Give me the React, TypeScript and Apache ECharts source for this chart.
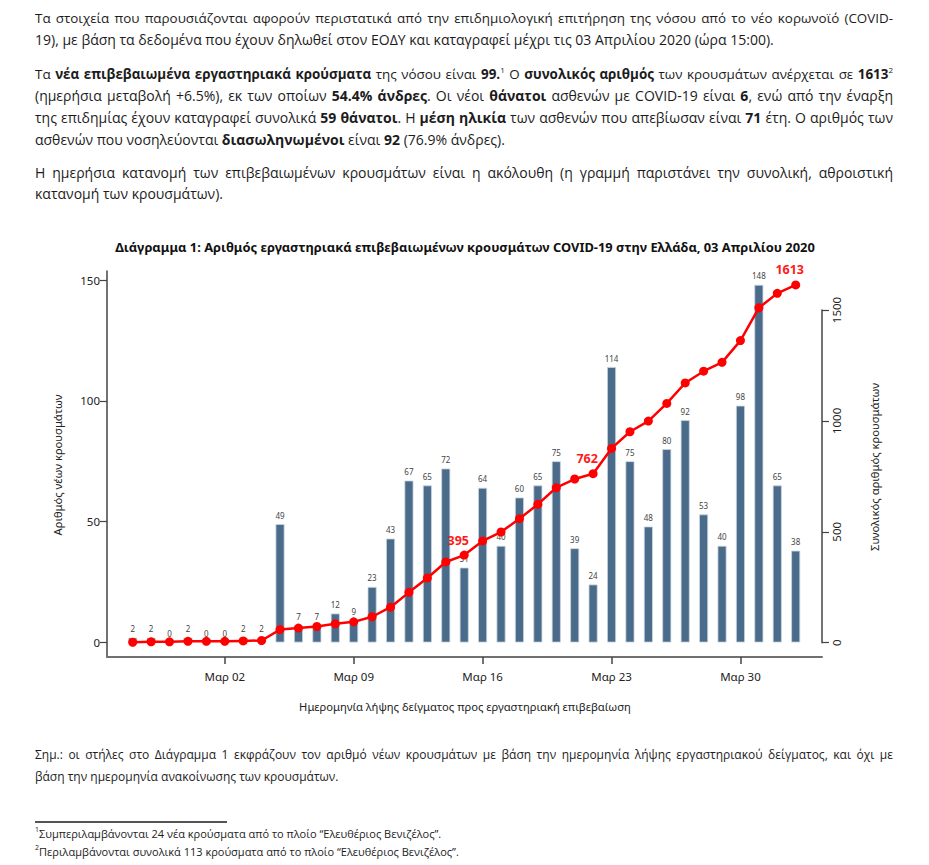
import React, { useEffect, useRef } from "react";
import * as echarts from "echarts";

// ---------- data ----------
const dates = [
  "2020-02-26", "2020-02-27", "2020-02-28", "2020-02-29", "2020-03-01", "2020-03-02",
  "2020-03-03", "2020-03-04", "2020-03-05", "2020-03-06", "2020-03-07", "2020-03-08",
  "2020-03-09", "2020-03-10", "2020-03-11", "2020-03-12", "2020-03-13", "2020-03-14",
  "2020-03-15", "2020-03-16", "2020-03-17", "2020-03-18", "2020-03-19", "2020-03-20",
  "2020-03-21", "2020-03-22", "2020-03-23", "2020-03-24", "2020-03-25", "2020-03-26",
  "2020-03-27", "2020-03-28", "2020-03-29", "2020-03-30", "2020-03-31", "2020-04-01",
  "2020-04-02",
];
const newCases = [
  2, 2, 0, 2, 0, 0, 2, 2, 49, 7, 7, 12, 9, 23, 43, 67, 65, 72, 31, 64, 40, 60, 65, 75,
  39, 24, 114, 75, 48, 80, 92, 53, 40, 98, 148, 65, 38,
];
const cumulativeCases = [
  2, 4, 4, 6, 6, 6, 8, 10, 59, 66, 73, 85, 94, 117, 160, 227, 292, 364, 395, 459, 499,
  559, 624, 699, 738, 762, 876, 951, 999, 1079, 1171, 1224, 1264, 1362, 1510, 1575, 1613,
];
const labeledCumulativeDates = ["2020-03-15", "2020-03-22", "2020-04-02"];
const xTickDates = ["2020-03-02", "2020-03-09", "2020-03-16", "2020-03-23", "2020-03-30"];
const xTickLabels = ["Μαρ 02", "Μαρ 09", "Μαρ 16", "Μαρ 23", "Μαρ 30"];
const leftTicks = [0, 50, 100, 150];
const rightTicks = [0, 500, 1000, 1500];

const chartTitle =
  "Διάγραμμα 1: Αριθμός εργαστηριακά επιβεβαιωμένων κρουσμάτων COVID-19 στην Ελλάδα, 03 Απριλίου 2020";
const xAxisTitle = "Ημερομηνία λήψης δείγματος προς εργαστηριακή επιβεβαίωση";
const leftAxisTitle = "Αριθμός νέων κρουσμάτων";
const rightAxisTitle = "Συνολικός αριθμός κρουσμάτων";

const CHART_FONT = "'Noto Sans', 'Open Sans', sans-serif";
const TEXT_FONT = "'Open Sans', 'Noto Sans', sans-serif";
const TEXT_COLOR = "#1c1c1c";

// ---------- layout (page pixel coordinates) ----------
const GRID_LEFT = 107;
const GRID_RIGHT = 822;
const GRID_TOP = 271;
const GRID_BOTTOM = 657;
const FIRST_BAR_X = 132.7;
const LAST_BAR_X = 795.7;
const Y0_LEFT = 642.5; // pixel of 0 on left axis
const Y150_LEFT = 280; // pixel of 150
const Y0_RIGHT = 642.7;
const Y1500_RIGHT = 310;

function buildOption() {
  const step = (LAST_BAR_X - FIRST_BAR_X) / (dates.length - 1);
  const xMin = -(FIRST_BAR_X - GRID_LEFT) / step;
  const xMax = dates.length - 1 + (GRID_RIGHT - LAST_BAR_X) / step;
  const lScale = (Y0_LEFT - Y150_LEFT) / 150;
  const lMin = -(GRID_BOTTOM - Y0_LEFT) / lScale;
  const lMax = 150 + (Y150_LEFT - GRID_TOP) / lScale;
  const rScale = (Y0_RIGHT - Y1500_RIGHT) / 1500;
  const rMin = -(GRID_BOTTOM - Y0_RIGHT) / rScale;
  const rMax = 1500 + (Y1500_RIGHT - GRID_TOP) / rScale;

  const tickIdx = xTickDates.map((d) => dates.indexOf(d));

  return {
    animation: false,
    textStyle: { fontFamily: CHART_FONT },
    grid: [
      {
        left: GRID_LEFT,
        top: GRID_TOP,
        width: GRID_RIGHT - GRID_LEFT,
        height: GRID_BOTTOM - GRID_TOP,
      },
      {
        left: GRID_LEFT,
        top: Y1500_RIGHT,
        width: GRID_RIGHT - GRID_LEFT,
        height: Y0_RIGHT - Y1500_RIGHT,
      },
    ],
    xAxis: [
      {
        type: "value",
        gridIndex: 0,
        min: xMin,
        max: xMax,
        splitLine: { show: false },
        axisLine: { show: true, onZero: false, lineStyle: { color: "#707070", width: 2 } },
        axisTick: {
          show: true,
          customValues: tickIdx,
          length: 7,
          lineStyle: { color: "#444", width: 1.5 },
        },
        axisLabel: {
          show: true,
          customValues: tickIdx,
          margin: 13,
          fontSize: 11.5,
          color: "#222",
          fontFamily: CHART_FONT,
          formatter: (v: number) => {
            const k = tickIdx.indexOf(Math.round(v));
            return k >= 0 ? xTickLabels[k] : "";
          },
        },
      },
      {
        type: "value",
        gridIndex: 1,
        min: 0,
        max: 1,
        show: false,
        axisLine: { show: false, onZero: false },
      },
    ],
    yAxis: [
      {
        type: "value",
        gridIndex: 0,
        position: "left",
        min: lMin,
        max: lMax,
        splitLine: { show: false },
        axisLine: { show: true, onZero: false, lineStyle: { color: "#444", width: 1.5 } },
        axisTick: {
          show: true,
          customValues: leftTicks,
          length: 7,
          lineStyle: { color: "#444", width: 1.2 },
        },
        axisLabel: {
          show: true,
          customValues: leftTicks,
          margin: 7,
          fontSize: 11.5,
          color: "#222",
          fontFamily: CHART_FONT,
        },
      },
      {
        type: "value",
        gridIndex: 0,
        position: "right",
        min: rMin,
        max: rMax,
        show: false,
        axisLine: { show: false, onZero: false },
      },
      {
        type: "value",
        gridIndex: 1,
        position: "right",
        min: 0,
        max: 1500,
        interval: 500,
        splitLine: { show: false },
        axisLine: { show: true, onZero: false, lineStyle: { color: "#444", width: 1.5 } },
        axisTick: {
          show: true,
          customValues: rightTicks,
          length: 7,
          lineStyle: { color: "#444", width: 1.2 },
        },
        axisLabel: {
          show: true,
          customValues: rightTicks,
          rotate: 90,
          margin: 8,
          fontSize: 11.5,
          color: "#222",
          fontFamily: CHART_FONT,
          formatter: (v: number) => String(v),
        },
      },
    ],
    graphic: [
      {
        type: "text",
        x: 465,
        y: 247,
        style: {
          text: chartTitle,
          align: "center",
          verticalAlign: "middle",
          fontFamily: CHART_FONT,
          fontSize: 12.9,
          fontWeight: "bold",
          fill: "#111",
        },
      },
      {
        type: "text",
        x: 465,
        y: 706,
        style: {
          text: xAxisTitle,
          align: "center",
          verticalAlign: "middle",
          fontFamily: CHART_FONT,
          fontSize: 11.2,
          fill: "#222",
        },
      },
      {
        type: "text",
        x: 57,
        y: 465,
        rotation: Math.PI / 2,
        style: {
          text: leftAxisTitle,
          align: "center",
          verticalAlign: "middle",
          fontFamily: CHART_FONT,
          fontSize: 11.2,
          fill: "#222",
        },
      },
      {
        type: "text",
        x: 874,
        y: 467,
        rotation: Math.PI / 2,
        style: {
          text: rightAxisTitle,
          align: "center",
          verticalAlign: "middle",
          fontFamily: CHART_FONT,
          fontSize: 11.2,
          fill: "#222",
        },
      },
    ],
    series: [
      {
        type: "bar",
        xAxisIndex: 0,
        yAxisIndex: 0,
        barWidth: 9,
        data: newCases.map((v, i) => [i, v]),
        itemStyle: {
          color: "#4a6b8a",
          borderColor: "#c9d5e1",
          borderWidth: 0.8,
        },
        label: {
          show: true,
          position: "top",
          distance: 5,
          fontSize: 8,
          color: "#444",
          fontFamily: CHART_FONT,
          formatter: (p: any) => String(p.value[1]),
        },
        z: 2,
      },
      {
        type: "line",
        xAxisIndex: 0,
        yAxisIndex: 1,
        data: cumulativeCases.map((v, i) => ({
          value: [i, v],
          label: { show: labeledCumulativeDates.includes(dates[i]) },
        })),
        symbol: "circle",
        symbolSize: 9,
        itemStyle: { color: "#ff0000" },
        lineStyle: { color: "#ff0000", width: 2.5 },
        label: {
          show: false,
          position: "top",
          distance: 4,
          offset: [-6, 0],
          fontSize: 12.5,
          fontWeight: "bold",
          color: "#ff1a1a",
          fontFamily: CHART_FONT,
          formatter: (p: any) => String(p.value[1]),
        },
        z: 5,
      },
    ],
  };
}

const lineBase: React.CSSProperties = {
  position: "absolute",
  left: 35,
  width: 858,
  height: 22,
  lineHeight: "22px",
  fontFamily: TEXT_FONT,
  fontSize: 14,
  color: TEXT_COLOR,
  whiteSpace: "nowrap",
};

const justified: React.CSSProperties = {
  textAlign: "justify",
  textAlignLast: "justify",
  whiteSpace: "normal",
};

function Line(props: { y: number; justify?: boolean; children: React.ReactNode; style?: React.CSSProperties }) {
  return (
    <div
      style={{
        ...lineBase,
        top: props.y - 11,
        ...(props.justify ? justified : {}),
        ...(props.style || {}),
      }}
    >
      {props.children}
    </div>
  );
}

const supStyle: React.CSSProperties = { fontSize: 8, verticalAlign: "top", lineHeight: "14px" };

export default function App() {
  const ref = useRef<HTMLDivElement>(null);
  useEffect(() => {
    if (!ref.current) return;
    const chart = echarts.init(ref.current, undefined, { renderer: "svg" });
    chart.setOption(buildOption() as any);
    return () => chart.dispose();
  }, []);

  return (
    <div
      style={{
        position: "fixed",
        left: 0,
        top: 0,
        width: 929,
        height: 865,
        overflow: "hidden",
        background: "#fff",
      }}
    >
      <div ref={ref} style={{ position: "absolute", left: 0, top: 0, width: 929, height: 865 }} />

      <Line y={18} justify style={{ fontSize: 13.4 }}>
        Τα στοιχεία που παρουσιάζονται αφορούν περιστατικά από την επιδημιολογική επιτήρηση της νόσου από το νέο κορωνοϊό (COVID-
      </Line>
      <Line y={40}>
        19), με βάση τα δεδομένα που έχουν δηλωθεί στον ΕΟΔΥ και καταγραφεί μέχρι τις 03 Απριλίου 2020 (ώρα 15:00).
      </Line>

      <Line y={74} justify style={{ fontSize: 13.4 }}>
        Τα <b>νέα επιβεβαιωμένα εργαστηριακά κρούσματα</b> της νόσου είναι <b>99.</b>
        <span style={supStyle}>1</span> Ο <b>συνολικός αριθμός</b> των κρουσμάτων ανέρχεται σε <b>1613</b>
        <span style={supStyle}>2</span>
      </Line>
      <Line y={96} justify>
        (ημερήσια μεταβολή +6.5%), εκ των οποίων <b>54.4% άνδρες</b>. Οι νέοι <b>θάνατοι</b> ασθενών με COVID-19 είναι{" "}
        <b>6</b>, ενώ από την έναρξη
      </Line>
      <Line y={118} justify>
        της επιδημίας έχουν καταγραφεί συνολικά <b>59 θάνατοι</b>. Η <b>μέση ηλικία</b> των ασθενών που απεβίωσαν είναι{" "}
        <b>71</b> έτη. Ο αριθμός των
      </Line>
      <Line y={140}>
        ασθενών που νοσηλεύονται <b>διασωληνωμένοι</b> είναι <b>92</b> (76.9% άνδρες).
      </Line>

      <Line y={173} justify>
        Η ημερήσια κατανομή των επιβεβαιωμένων κρουσμάτων είναι η ακόλουθη (η γραμμή παριστάνει την συνολική, αθροιστική
      </Line>
      <Line y={194}>κατανομή των κρουσμάτων).</Line>

      <Line y={755} justify style={{ fontSize: 12 }}>
        Σημ.: οι στήλες στο Διάγραμμα 1 εκφράζουν τον αριθμό νέων κρουσμάτων με βάση την ημερομηνία λήψης εργαστηριακού δείγματος, και όχι με
      </Line>
      <Line y={777} style={{ fontSize: 12 }}>
        βάση την ημερομηνία ανακοίνωσης των κρουσμάτων.
      </Line>

      <div
        style={{
          position: "absolute",
          left: 35,
          top: 821,
          width: 192,
          height: 1.5,
          background: "#555",
        }}
      />
      <Line y={834} style={{ fontSize: 11, height: 18, lineHeight: "18px", top: 825 }}>
        <span style={{ fontSize: 7, verticalAlign: "top", lineHeight: "10px" }}>1</span>
        Συμπεριλαμβάνονται 24 νέα κρούσματα από το πλοίο “Ελευθέριος Βενιζέλος”.
      </Line>
      <Line y={852} style={{ fontSize: 11, height: 18, lineHeight: "18px", top: 843 }}>
        <span style={{ fontSize: 7, verticalAlign: "top", lineHeight: "10px" }}>2</span>
        Περιλαμβάνονται συνολικά 113 κρούσματα από το πλοίο “Ελευθέριος Βενιζέλος”.
      </Line>
    </div>
  );
}
